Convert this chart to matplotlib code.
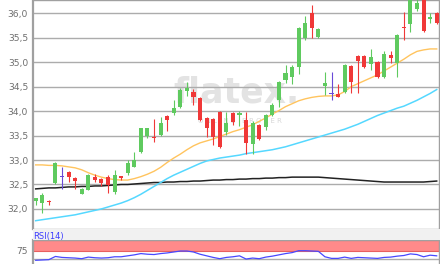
import matplotlib
matplotlib.use("Agg")
import matplotlib.pyplot as plt
from matplotlib.ticker import FuncFormatter, FixedLocator
from matplotlib.patches import Rectangle
import numpy as np

# ---------------- data ----------------
opens = [32.16, 32.12, 32.17, 32.53, 32.67, 32.76, 32.63, 32.31, 32.39, 32.66,
         32.62, 32.65, 32.35, 32.67, 32.73, 32.86, 33.16, 33.49, 33.46, 33.51,
         33.90, 33.96, 34.08, 34.41, 34.39, 34.27, 33.86, 33.84, 33.98, 33.57,
         33.96, 33.92, 33.82, 33.33, 33.71, 33.67, 33.92, 34.22, 34.63, 34.69,
         34.90, 35.49, 36.00, 35.51, 34.51, 34.35, 34.35, 34.39, 34.92, 35.12,
         35.12, 34.96, 35.00, 34.69, 35.14, 34.98, 35.71, 35.78, 36.08, 36.27,
         35.88, 36.00]
closes = [32.22, 32.29, 32.15, 32.93, 32.67, 32.65, 32.57, 32.40, 32.69, 32.60,
          32.53, 32.49, 32.69, 32.64, 32.93, 33.00, 33.65, 33.65, 33.44, 33.76,
          33.82, 34.06, 34.43, 34.47, 34.29, 33.82, 33.65, 33.47, 33.27, 33.76,
          33.78, 33.96, 33.35, 33.76, 33.42, 33.92, 34.12, 34.59, 34.78, 34.90,
          35.69, 35.80, 35.69, 35.67, 34.57, 34.35, 34.29, 34.94, 34.59, 35.02,
          34.90, 35.10, 34.69, 35.16, 35.08, 35.55, 35.69, 36.27, 36.20, 35.63,
          35.92, 35.80]
highs = [32.23, 32.33, 32.19, 32.96, 32.86, 32.78, 32.65, 32.42, 32.72, 32.72,
         32.64, 32.69, 32.80, 32.68, 33.00, 33.16, 33.66, 33.66, 33.84, 33.88,
         33.93, 34.22, 34.48, 34.60, 34.45, 34.28, 33.88, 33.86, 34.00, 33.98,
         33.98, 34.00, 33.98, 33.80, 33.74, 33.95, 34.16, 34.62, 34.94, 34.94,
         35.72, 35.95, 36.16, 35.69, 34.80, 34.80, 34.55, 34.96, 34.95, 35.14,
         35.14, 35.26, 35.03, 35.22, 35.22, 35.58, 36.02, 36.30, 36.30, 36.30,
         36.00, 36.02]
lows = [32.08, 31.92, 32.09, 32.50, 32.41, 32.55, 32.41, 32.30, 32.38, 32.55,
        32.46, 32.33, 32.31, 32.60, 32.70, 32.85, 33.15, 33.45, 33.37, 33.50,
        33.60, 33.93, 34.06, 34.30, 34.12, 33.80, 33.47, 33.31, 33.25, 33.52,
        33.72, 33.70, 33.13, 33.12, 33.40, 33.62, 33.90, 34.08, 34.57, 34.55,
        34.76, 35.45, 35.49, 35.50, 34.33, 34.22, 34.28, 34.37, 34.37, 34.37,
        34.88, 34.84, 34.67, 34.67, 34.98, 34.69, 35.45, 35.62, 36.05, 35.62,
        35.80, 35.78]
ma_orange = [32.90, 32.90, 32.89, 32.89, 32.88, 32.86, 32.84, 32.80, 32.74, 32.69,
             32.65, 32.62, 32.60, 32.59, 32.59, 32.62, 32.66, 32.71, 32.77, 32.85,
             32.95, 33.04, 33.12, 33.21, 33.29, 33.35, 33.39, 33.43, 33.48, 33.53,
             33.58, 33.62, 33.67, 33.72, 33.79, 33.86, 33.94, 34.01, 34.09, 34.15,
             34.21, 34.25, 34.28, 34.30, 34.31, 34.31, 34.33, 34.40, 34.50, 34.56,
             34.62, 34.68, 34.74, 34.82, 34.90, 34.98, 35.06, 35.15, 35.22, 35.25,
             35.27, 35.27]
ma_cyan = [31.76, 31.78, 31.80, 31.82, 31.84, 31.86, 31.88, 31.91, 31.94, 31.97,
           32.00, 32.04, 32.08, 32.12, 32.17, 32.23, 32.30, 32.38, 32.46, 32.54,
           32.62, 32.69, 32.75, 32.81, 32.87, 32.93, 32.98, 33.01, 33.04, 33.06,
           33.08, 33.10, 33.13, 33.15, 33.17, 33.19, 33.21, 33.24, 33.27, 33.31,
           33.35, 33.39, 33.43, 33.47, 33.51, 33.55, 33.59, 33.63, 33.68, 33.73,
           33.79, 33.85, 33.91, 33.96, 34.01, 34.06, 34.10, 34.16, 34.22, 34.29,
           34.36, 34.44]
ma_black = [32.41, 32.42, 32.43, 32.43, 32.44, 32.45, 32.45, 32.46, 32.46, 32.47,
            32.47, 32.48, 32.49, 32.50, 32.50, 32.51, 32.52, 32.53, 32.54, 32.54,
            32.55, 32.55, 32.56, 32.56, 32.57, 32.57, 32.58, 32.59, 32.59, 32.60,
            32.60, 32.61, 32.61, 32.62, 32.62, 32.63, 32.63, 32.64, 32.64, 32.65,
            32.65, 32.65, 32.65, 32.65, 32.64, 32.63, 32.62, 32.61, 32.60, 32.59,
            32.58, 32.57, 32.56, 32.55, 32.55, 32.55, 32.55, 32.55, 32.55, 32.55,
            32.56, 32.57]
rsi = [45, 46, 47, 57, 54, 53, 52, 50, 55, 53,
       52, 53, 56, 56, 59, 62, 66, 64, 63, 66,
       68, 71, 74, 74, 71, 64, 59, 54, 50, 54,
       56, 59, 49, 52, 50, 55, 58, 62, 66, 69,
       75, 75, 74, 73, 56, 51, 51, 55, 51, 54,
       53, 52, 51, 54, 55, 58, 60, 65, 63, 56,
       61, 59]
price_ticks = [32.0, 32.5, 33.0, 33.5, 34.0, 34.5, 35.0, 35.5, 36.0]
rsi_ticks = [75]
rsi_label = "RSI(14)"

# ---------------- figure ----------------
W, H = 440, 264
fig = plt.figure(figsize=(W / 100, H / 100), dpi=100)
fig.patch.set_facecolor("white")

def fx(px):
    return px / W

def fy(py):
    return 1 - py / H

# strip between panels
fig.patches.append(Rectangle((fx(33), fy(239.5)), fx(440 - 33), (239.5 - 229) / H,
                             transform=fig.transFigure, facecolor="#f1f1f1",
                             edgecolor="none", zorder=0))

ax = fig.add_axes([fx(33), fy(229), fx(439 - 33), 229 / H])
n = len(opens)
x = np.arange(n)

GREEN = "#5fca5f"
RED = "#f03838"
PURPLE = "#6a4ad8"
GRID = "#acacac"
SPINE = "#a0a0a0"
TXT = "#6e6e6e"

# watermark
ax.text(0.50, 0.595, "flatex.", transform=ax.transAxes, ha="center", va="center",
        fontsize=25, fontweight="bold", color="#e3e3e3", zorder=0.5)
ax.text(0.51, 0.47, "O N L I N E   B R O K E R", transform=ax.transAxes,
        ha="center", va="center", fontsize=5, color="#d8d8d8", zorder=0.5)

# moving averages
ax.plot(x, ma_black, color="#222222", lw=1.1, zorder=2)
ax.plot(x, ma_cyan, color="#55d8ff", lw=1.1, zorder=2)
ax.plot(x, ma_orange, color="#ffc45e", lw=1.0, zorder=2)

# candles
o = np.array(opens); c = np.array(closes); h = np.array(highs); l = np.array(lows)
cols = [GREEN if cc > oo else (RED if cc < oo else PURPLE) for oo, cc in zip(o, c)]
ax.vlines(x, l, h, colors=cols, lw=0.8, zorder=3)
bottoms = np.minimum(o, c)
heights = np.maximum(np.abs(c - o), 0.02)
ax.bar(x, heights, bottom=bottoms - np.where(np.abs(c - o) < 0.02, 0.01, 0), width=0.62,
       color=cols, edgecolor="none", zorder=4)

ax.set_xlim(-0.41, n - 1 + 0.35)
ax.set_ylim(31.59, 36.27)
ax.yaxis.set_major_locator(FixedLocator(price_ticks))
ax.yaxis.set_major_formatter(FuncFormatter(lambda v, p: f"{v:.1f}".replace(".", ",")))
ax.grid(axis="y", color=GRID, lw=1.0, zorder=1)
ax.set_axisbelow(True)
ax.set_xticks([])
ax.tick_params(axis="y", length=0, pad=3.5, labelsize=6.6, labelcolor=TXT)
for s in ax.spines.values():
    s.set_color(SPINE)
    s.set_linewidth(1.0)
ax.spines["left"].set_linewidth(1.6)

# RSI panel
ax2 = fig.add_axes([fx(33), fy(274.7), fx(439 - 33), (274.7 - 239.5) / H])
ax2.axhspan(75, 110, facecolor="#ff8a8a", edgecolor="#e86060", lw=0.8, zorder=1)
ax2.axhline(50, color=GRID, lw=1.0, zorder=1)
ax2.plot(x, rsi, color="#4848ff", lw=0.9, zorder=3)
ax2.set_xlim(-0.41, n - 1 + 0.35)
ax2.set_ylim(0, 110)
ax2.set_xticks([])
ax2.yaxis.set_major_locator(FixedLocator(rsi_ticks))
ax2.tick_params(axis="y", length=0, pad=3.5, labelsize=6.6, labelcolor=TXT)
for s in ax2.spines.values():
    s.set_color(SPINE)
    s.set_linewidth(1.0)
ax2.spines["left"].set_linewidth(1.6)

fig.text(fx(33.5), fy(236), rsi_label, ha="left", va="center", fontsize=6,
         color="#3c3cff")

fig.savefig("out.png", dpi=100, facecolor="white")
